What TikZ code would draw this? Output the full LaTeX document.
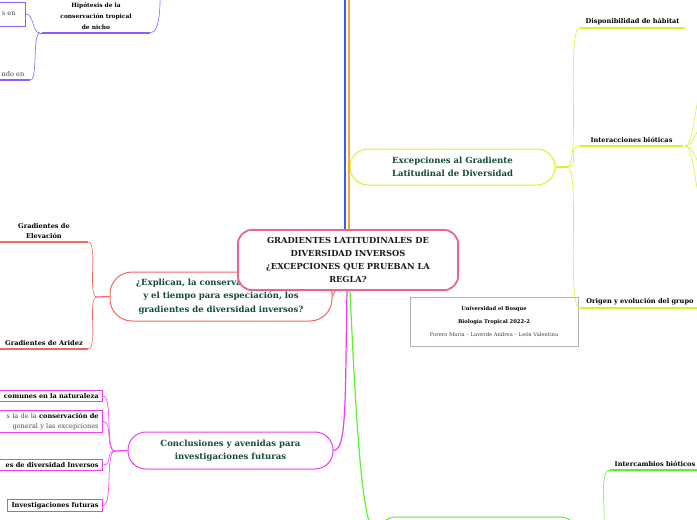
\documentclass[tikz,border=0pt]{standalone}
\usepackage{fontspec}
\setmainfont{DejaVu Serif}
\definecolor{rootpink}{RGB}{232,98,150}
\definecolor{lineblue}{RGB}{45,100,235}
\definecolor{lineorange}{RGB}{250,165,60}
\definecolor{limey}{RGB}{212,245,45}
\definecolor{coral}{RGB}{240,105,95}
\definecolor{mmviolet}{RGB}{140,95,245}
\definecolor{mmmagenta}{RGB}{238,60,238}
\definecolor{mmgreen}{RGB}{95,240,50}
\definecolor{titlegreen}{RGB}{20,75,55}
\newcommand{\rootfont}{\fontsize{8.3}{13}\selectfont\bfseries}
\newcommand{\topicfont}{\fontsize{8.5}{13.5}\selectfont\bfseries}
\newcommand{\leaffont}{\fontsize{6.6}{10}\selectfont\bfseries}
\newcommand{\plainfont}{\fontsize{6.6}{10}\selectfont}
\newcommand{\infofont}{\fontsize{5.2}{13}\selectfont}

\begin{document}
\begin{tikzpicture}[x=1pt, y=-1pt, every node/.style={inner sep=0pt},
    rootbox/.style={draw=rootpink, line width=1.6pt, fill=white, rounded corners=14pt,
        minimum width=220pt, minimum height=60pt, align=center, font=\rootfont, text=black!90},
    topicbox/.style={draw=#1, fill=white, line width=1pt, rounded corners=18pt,
        align=center, font=\topicfont, text=titlegreen},
    leaf/.style={anchor=south, align=center, inner ysep=3pt, font=\leaffont},
    leafbox/.style={draw=#1, fill=white, line width=0.8pt, anchor=east,
        inner xsep=4pt, inner ysep=3pt, font=\leaffont},
    branch/.style={line width=0.6pt}]
    \useasboundingbox (0,0) rectangle (697,520);
    \clip (0,0) rectangle (697,520);

    % leaves and topic boxes
    \node[topicbox=limey, minimum width=205pt, minimum height=36pt] (topic1) at (452.5,167)
        {Excepciones al Gradiente\\Latitudinal de Diversidad};
    \node[topicbox=coral, rounded corners=22pt, minimum width=222pt, minimum height=49pt] (topic2) at (221,296.5)
        {¿Explican, la conservación de nicho\\y el tiempo para especiación, los\\gradientes de diversidad inversos?};
    \node[topicbox=mmmagenta, minimum width=205pt, minimum height=37pt] (topic3) at (230.5,450.5)
        {Conclusiones y avenidas para\\investigaciones futuras};
    \node[topicbox=mmgreen, minimum width=200pt, minimum height=38pt] (topic4) at (478,536) {};

    % right side (lime)
    \node[leaf, minimum width=105pt] (d1) at (632.5,28) {Disponibilidad de hábitat};
    \node[leaf, minimum width=103pt] (d2) at (631.5,146) {Interacciones bióticas};
    \node[leaf, minimum width=120pt] (d3) at (640,308) {Origen y evolución del grupo};
    \node[leaf, minimum width=90pt] (e1) at (655,470) {Intercambios bióticos};

    % left side (coral, violet)
    \node[leaf, minimum width=88pt] (g1) at (44,242) {Gradientes de\\Elevación};
    \node[leaf, minimum width=88pt] (g2) at (44,349) {Gradientes de Aridez};
    \node[leaf, minimum width=108pt, font=\fontsize{5.9}{11}\selectfont\bfseries] (h1) at (96,33)
        {Hipótesis de la\\conservación tropical\\de nicho};
    \node[leaf, minimum width=34pt, font=\plainfont, text=black!75] (n1) at (13,80) {ndo en};
    \node[leafbox=mmviolet, minimum height=24pt, inner xsep=10pt, font=\plainfont, text=black!75] (s1) at (26,14) {s en};

    % magenta boxes
    \node[leafbox=mmmagenta, text width=120pt, align=right] (m1) at (103,396) {comunes en la naturaleza};
    \node[leafbox=mmmagenta, text width=120pt, align=right, font=\plainfont, text=black!70] (m2) at (103,421.5)
        {s la de la \textbf{\color{black}conservación de}\\general y las excepciones};
    \node[leafbox=mmmagenta, text width=120pt, align=right] (m3) at (103,465) {es de diversidad Inversos};
    \node[leafbox=mmmagenta] (m4) at (103,505.5) {Investigaciones futuras};

    % info box
    \node[draw=black!30, line width=0.6pt, minimum width=168pt, minimum height=49pt, align=center,
        font=\infofont, text=black!75] (info) at (494,321.5)
        {\textbf{\color{black}Universidad el Bosque}\\\textbf{\color{black}Biología Tropical 2022-2}\\Forero Maria – Laverde Andrea – León Valentina};

    % branch points
    \coordinate (b1) at (567,167);
    \coordinate (b2) at (685,146);
    \coordinate (b3) at (97,297);
    \coordinate (b4) at (115,451);
    \coordinate (b5) at (598,538);
    \coordinate (b6) at (40,33);
    \coordinate (blueend) at (345,-10);
    \coordinate (orangeend) at (349,-10);
    \coordinate (hup) at (160,-20);
    \foreach \y [count=\i] in {86,126,166,206}
        \coordinate (i\i) at (705,\y);

    % underlines
    \foreach \n in {d1,d2,d3} \draw[limey, line width=1.8pt] (\n.south west) -- (\n.south east);
    \draw[mmgreen, line width=1.8pt] (e1.south west) -- (e1.south east);
    \foreach \n in {g1,g2} \draw[coral, line width=1.8pt] (\n.south west) -- (\n.south east);
    \foreach \n in {h1,n1} \draw[mmviolet, line width=1.8pt] (\n.south west) -- (\n.south east);

    % connectors
    \draw[limey, line width=1.4pt] (topic1.east) -- (b1);
    \foreach \n in {d1,d2,d3} \draw[limey, branch] (b1) to[out=0, in=180, distance=14pt] (\n.south west);
    \foreach \i in {1,...,4} \draw[limey, branch] (b2) to[out=0, in=180, distance=10pt] (i\i);
    \draw[coral, line width=1.2pt] (topic2.west) -- (b3);
    \foreach \n in {g1,g2} \draw[coral, branch] (b3) to[out=180, in=0, distance=10pt] (\n.south east);
    \draw[mmmagenta, line width=1.2pt] (topic3.west) -- (b4);
    \foreach \n in {m1,m2,m3,m4} \draw[mmmagenta, branch] (b4) to[out=180, in=0, distance=10pt] (\n.east);
    \draw[mmgreen, line width=1.2pt] (topic4.east) -- (b5);
    \draw[mmgreen, branch] (b5) to[out=0, in=180, distance=14pt] (e1.south west);
    \draw[mmviolet, branch] (h1.south west) -- (b6);
    \draw[mmviolet, branch] (b6) to[out=180, in=0, distance=8pt] (s1.east);
    \draw[mmviolet, branch] (b6) to[out=180, in=0, distance=8pt] (n1.south east);
    \draw[mmviolet, branch] (h1.south east) to[out=0, in=-90, distance=12pt] (hup);

    % main lines from the root
    \node[rootbox] (root) at (348,260) {};
    \draw[limey, line width=0.8pt] ([xshift=1pt]root.north) -- (topic1.west);
    \draw[lineblue, line width=1.4pt] (root.north -| blueend) -- (blueend);
    \draw[lineorange, line width=1.2pt] (root.north -| orangeend) -- (orangeend);
    \draw[mmmagenta, line width=1.2pt] ([xshift=-1pt]root.south) .. controls (345,400) and (347,450.5) .. (topic3.east);
    \draw[mmgreen, line width=1.2pt] ([xshift=2pt]root.south) .. controls (356,420) and (362,536) .. (topic4.west);
    \draw[coral, line width=1pt] (root) -- (topic2.east);
    \node[rootbox] (root) at (348,260)
        {GRADIENTES LATITUDINALES DE\\DIVERSIDAD INVERSOS\\¿EXCEPCIONES QUE PRUEBAN LA\\REGLA?};
\end{tikzpicture}
\end{document}
